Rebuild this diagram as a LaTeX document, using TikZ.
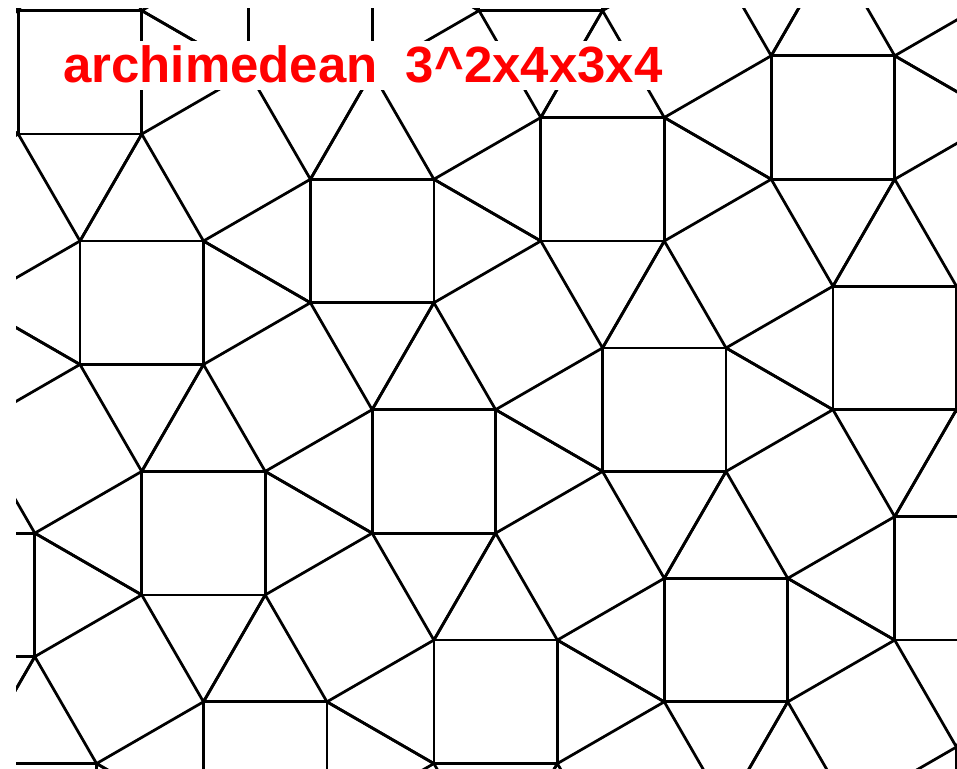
\documentclass[tikz,border=0pt]{standalone}
\usepackage{fontspec}
\setmainfont{Liberation Sans}
\begin{document}
\begin{tikzpicture}[x=0.02cm,y=-0.02cm,
    tileline/.style={line width=0.055cm,line join=round,black}]
  \useasboundingbox[fill=white] (0,0) rectangle (957,768);
  \begin{scope}
    \clip (16,8.5) rectangle (957,768);
    % square plus its four triangles, repeated over the lattice
    \foreach \i in {-2,...,5}
      \foreach \j in {-2,...,4}
      {
        \begin{scope}[shift={(80,241)},x=2.47cm,y=-2.47cm,
            shift={({1.866*\i+0.5*\j},{-0.5*\i+1.866*\j})}]
          \draw[tileline] (0,0) rectangle (1,1);
          \draw[tileline] (1,0) -- (1.866,0.5) -- (1,1);
          \draw[tileline] (0,0) -- (0.5,-0.866) -- (1,0);
          \draw[tileline] (0,0) -- (-0.866,0.5) -- (0,1);
          \draw[tileline] (0,1) -- (0.5,1.866) -- (1,1);
        \end{scope}
      }
  \end{scope}
  \node[anchor=base west,fill=white,inner sep=0.08cm,text depth=0.08cm,
    text=red,font=\bfseries\fontsize{29}{32}\selectfont] (title) at (59,82)
    {archimedean\ \ 3\textasciicircum 2x4x3x4};
\end{tikzpicture}
\end{document}
